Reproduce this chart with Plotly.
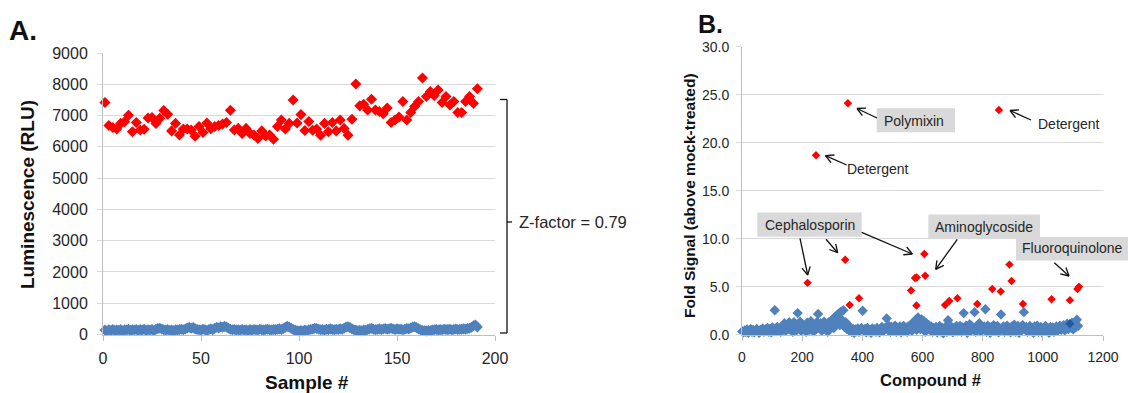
import math
import plotly.graph_objects as go

W, H = 1128, 393

# ---------------- Panel A data ----------------
a_blue_samples = list(range(1, 192))
a_blue_rlu = [
    140, 120, 150, 130, 160, 125, 145, 135, 155, 120, 150, 140, 165, 130, 150, 145, 160, 135, 155, 140,
    170, 130, 150, 145, 160, 120, 165, 190, 200, 175, 150, 140, 160, 130, 145, 120, 150, 140, 160, 170,
    150, 175, 210, 230, 200, 220, 180, 160, 150, 140, 170, 150, 130, 160, 180, 150, 200, 230, 210, 250,
    230, 260, 240, 200, 170, 150, 160, 140, 150, 135, 160, 145, 150, 130, 155, 140, 160, 150, 145, 165,
    150, 140, 160, 170, 150, 145, 160, 155, 170, 180, 160, 190, 230, 260, 240, 200, 160, 140, 120, 110,
    130, 110, 140, 120, 150, 160, 175, 200, 190, 170, 150, 160, 140, 170, 155, 180, 160, 150, 170, 160,
    180, 170, 200, 240, 250, 220, 180, 150, 140, 120, 135, 115, 140, 130, 160, 180, 200, 170, 150, 165,
    180, 160, 175, 190, 170, 185, 200, 175, 160, 180, 170, 165, 150, 170, 190, 180, 210, 240, 250, 220,
    180, 150, 130, 120, 110, 125, 120, 140, 150, 160, 145, 155, 150, 165, 160, 155, 170, 150, 160, 175,
    160, 170, 165, 180, 170, 190, 200, 230, 280, 300, 240,
]

a_red_samples = list(range(1, 192, 2))
a_red_rlu = [
    7420, 6680, 6620, 6570, 6750, 6800, 7010, 6480, 6780, 6540,
    6560, 6920, 6940, 6750, 6910, 7160, 7040, 6510, 6750, 6380,
    6570, 6570, 6540, 6340, 6650, 6460, 6760, 6580, 6650, 6680,
    6730, 6780, 7170, 6540, 6590, 6430, 6590, 6430, 6380, 6270,
    6510, 6350, 6380, 6240, 6650, 6860, 6570, 6750, 7500, 6760,
    7030, 6520, 6810, 6530, 6570, 6370, 6750, 6480, 6780, 6510,
    6860, 6590, 6370, 6880, 8010, 7310, 7360, 7180, 7520, 7180,
    7130, 7060, 7240, 6780, 6860, 6950, 7450, 6860, 7100, 7290,
    7450, 8200, 7610, 7770, 7640, 7820, 7420, 7610, 7340, 7450,
    7100, 7100, 7450, 7610, 7390, 7860,
]

# ---------------- Panel B data ----------------
b_blue_compounds = list(range(1, 1118, 4))
b_blue_fold = [
    0.35, 0.25, 0.45, 0.3, 0.55, 0.2, 0.4, 0.6, 0.3, 0.5, 0.25, 0.45, 0.6, 0.35, 0.2, 0.5, 0.4, 0.65, 0.3, 0.55,
    0.4, 0.7, 0.3, 0.6, 0.25, 0.75, 0.5, 2.55, 0.35, 0.8, 0.45, 0.65, 0.3, 0.85, 0.5, 1.2, 0.4, 0.9, 0.6, 1.3,
    0.5, 1.0, 0.3, 1.3, 0.7, 0.45, 2.25, 0.9, 1.35, 0.4, 1.1, 0.6, 0.95, 0.3, 1.25, 0.7, 0.5, 1.4, 0.8, 0.35,
    1.0, 0.5, 1.3, 2.15, 0.7, 1.2, 0.4, 0.9, 1.35, 0.6, 1.1, 0.3, 1.3, 0.8, 1.45, 1.6, 0.7, 1.85, 1.2, 2.05,
    2.2, 1.0, 2.4, 1.5, 2.55, 0.8, 1.3, 0.6, 1.0, 0.4, 0.7, 0.3, 0.6, 0.2, 0.55, 0.35, 0.65, 0.3, 0.5, 0.7,
    2.5, 0.4, 0.6, 0.25, 0.7, 0.35, 0.5, 0.2, 0.65, 0.4, 0.55, 0.3, 0.7, 0.45, 0.25, 0.6, 0.8, 0.35, 0.5, 0.75,
    1.7, 0.5, 0.9, 0.3, 0.8, 0.6, 0.4, 0.95, 0.3, 0.7, 0.55, 0.85, 0.25, 0.65, 0.9, 0.4, 0.75, 0.3, 0.85, 0.6,
    1.0, 0.4, 1.3, 0.7, 1.5, 0.5, 1.8, 1.1, 0.6, 1.6, 0.9, 1.4, 0.3, 1.2, 0.7, 1.0, 0.5, 0.85, 0.3, 0.7,
    0.4, 0.8, 0.25, 0.6, 0.9, 0.35, 0.7, 0.15, 0.55, 0.85, 0.3, 1.5, 0.6, 0.4, 0.8, 0.25, 0.7, 0.5, 0.9, 0.35,
    0.6, 0.9, 0.3, 0.75, 2.25, 0.5, 0.95, 0.2, 0.7, 1.1, 0.4, 0.8, 0.55, 2.35, 0.3, 0.9, 0.65, 1.2, 0.35, 0.7,
    0.5, 0.85, 2.65, 0.3, 0.95, 0.6, 0.2, 0.8, 0.45, 1.0, 0.35, 0.7, 0.9, 0.25, 0.65, 2.1, 0.5, 0.85, 0.3, 0.75,
    0.95, 0.4, 0.7, 0.25, 0.85, 0.5, 1.05, 0.3, 0.6, 0.9, 0.2, 0.75, 0.45, 1.0, 2.35, 0.55, 0.8, 0.3, 0.65, 0.9,
    0.35, 0.7, 0.2, 0.85, 0.5, 0.95, 0.3, 0.6, 0.8, 0.25, 0.7, 0.45, 0.9, 0.35, 0.65, 0.2, 0.8, 0.5, 0.75, 0.3,
    0.6, 0.85, 0.4, 0.7, 0.95, 0.5, 0.8, 1.0, 0.45, 0.9, 1.15, 0.6, 1.05, 0.75, 1.25, 0.55, 1.1, 0.8, 1.55, 0.9,
]
b_dark_compounds = [1090]
b_dark_fold = [1.15]

b_red_compounds = [218, 246, 343, 352, 358, 389, 562, 575, 581, 580, 606, 609, 675,
                   689, 716, 782, 832, 854, 860, 889, 896, 934, 1029, 1090, 1115, 1120]
b_red_fold = [5.4, 18.7, 7.8, 24.1, 3.1, 3.8, 4.6, 5.9, 5.95, 3.05, 8.4, 6.15, 3.1,
              3.5, 3.8, 3.2, 4.75, 23.4, 4.5, 7.3, 5.6, 3.2, 3.7, 3.6, 4.75, 5.0]

a_x_ticks = [0, 50, 100, 150, 200]
a_y_ticks = [0, 1000, 2000, 3000, 4000, 5000, 6000, 7000, 8000, 9000]
b_x_ticks = [0, 200, 400, 600, 800, 1000, 1200]
b_y_ticks = [0, 5, 10, 15, 20, 25, 30]

RED = "#ff0000"
BLUE = "#4f81bd"
DARKBLUE = "#1f5aa6"
GRID = "#d9d9d9"
AXIS = "#bfbfbf"
TXT = "#262626"
FONT = "Liberation Sans, Arial, sans-serif"


def px(x):
    return x / W


def py(y):
    return 1 - y / H


fig = go.Figure()

fig.add_trace(go.Scatter(x=a_blue_samples, y=a_blue_rlu, mode="markers", xaxis="x", yaxis="y",
                         marker=dict(symbol="diamond", size=8.5, color=BLUE), cliponaxis=False,
                         showlegend=False, hoverinfo="skip"))
fig.add_trace(go.Scatter(x=a_red_samples, y=a_red_rlu, mode="markers", xaxis="x", yaxis="y",
                         marker=dict(symbol="diamond", size=8.5, color=RED), cliponaxis=False,
                         showlegend=False, hoverinfo="skip"))
fig.add_trace(go.Scatter(x=b_blue_compounds, y=b_blue_fold, mode="markers", xaxis="x2", yaxis="y2",
                         marker=dict(symbol="diamond", size=8, color=BLUE), cliponaxis=False,
                         showlegend=False, hoverinfo="skip"))
fig.add_trace(go.Scatter(x=b_dark_compounds, y=b_dark_fold, mode="markers", xaxis="x2", yaxis="y2",
                         marker=dict(symbol="diamond", size=7, color=DARKBLUE), cliponaxis=False,
                         showlegend=False, hoverinfo="skip"))
fig.add_trace(go.Scatter(x=b_red_compounds, y=b_red_fold, mode="markers", xaxis="x2", yaxis="y2",
                         marker=dict(symbol="diamond", size=6.5, color=RED), cliponaxis=False,
                         showlegend=False, hoverinfo="skip"))

common_x = dict(showgrid=False, showline=True, linecolor=AXIS, linewidth=1, ticks="outside",
                ticklen=5, tickcolor=AXIS, zeroline=False, fixedrange=True, automargin=False)
common_y = dict(showgrid=True, gridcolor=GRID, gridwidth=1, showline=True, linecolor=AXIS,
                linewidth=1, ticks="outside", ticklen=5, tickcolor=GRID, zeroline=False, fixedrange=True,
                automargin=False)

fig.update_layout(
    width=W, height=H,
    margin=dict(l=0, r=0, t=0, b=0),
    paper_bgcolor="white", plot_bgcolor="white",
    font=dict(family=FONT, color=TXT),
    xaxis=dict(domain=[px(103), px(495)], range=[0, 200], tickvals=a_x_ticks, anchor="y",
               tickfont=dict(size=16, color=TXT), ticklabelstandoff=4, **common_x),
    yaxis=dict(domain=[py(334.5), py(53)], range=[0, 9000], tickvals=a_y_ticks, anchor="x",
               tickfont=dict(size=16, color=TXT), ticklabelstandoff=6, **common_y),
    xaxis2=dict(domain=[px(742), px(1103)], range=[0, 1200], tickvals=b_x_ticks, anchor="y2",
                tickfont=dict(size=14, color=TXT), ticklabelstandoff=4, **common_x),
    yaxis2=dict(domain=[py(334.7), py(46.7)], range=[0, 30], tickvals=b_y_ticks, anchor="x2",
                tickformat=".1f", tickfont=dict(size=14, color=TXT), ticklabelstandoff=4, **common_y),
)

annotations = []
shapes = []


def text(x, y, s, size, bold=False, angle=0, xanchor="center", color=TXT):
    annotations.append(dict(x=px(x), y=py(y), xref="paper", yref="paper", text=f"<b>{s}</b>" if bold else s,
                            showarrow=False, xanchor=xanchor, yanchor="middle", textangle=angle,
                            font=dict(size=size, color=color, family=FONT)))


def line(x0, y0, x1, y1, color="#111", width=1.3):
    shapes.append(dict(type="line", xref="paper", yref="paper", x0=px(x0), y0=py(y0), x1=px(x1), y1=py(y1),
                       line=dict(color=color, width=width)))


def arrow(x0, y0, x1, y1, head=9, ang=28):
    line(x0, y0, x1, y1)
    a = math.atan2(y0 - y1, x0 - x1)
    for s in (-1, 1):
        b = a + s * math.radians(ang)
        line(x1, y1, x1 + head * math.cos(b), y1 + head * math.sin(b))


def box(x0, y0, x1, y1):
    shapes.append(dict(type="rect", xref="paper", yref="paper", x0=px(x0), y0=py(y1), x1=px(x1), y1=py(y0),
                       fillcolor="#d9d9d9", line=dict(width=0), layer="above"))


# Panel letters
text(23, 31, "A.", 28, bold=True, color="#111")
text(710, 24, "B.", 25, bold=True, color="#111")

# Axis titles
text(27, 195, "Luminescence (RLU)", 19, bold=True, angle=-90, color="#111")
text(307, 382, "Sample #", 19, bold=True, color="#111")
text(689, 196, "Fold Signal (above mock-treated)", 15.5, bold=True, angle=-90, color="#111")
text(930, 380, "Compound #", 16.5, bold=True, color="#111")

# Z-factor bracket
line(500, 99.5, 507, 99.5)
line(507, 99.5, 507, 333)
line(500, 333, 507, 333)
line(507, 222, 512, 222)
text(517, 222, "Z-factor = 0.79", 16.5, xanchor="left")

# Panel B callouts
box(876.7, 108.3, 955, 132.3)
text(914, 120.5, "Polymixin", 14)
arrow(877, 118, 857, 108.5)

text(1069, 124, "Detergent", 14)
arrow(1031, 120, 1010, 110.5)

text(878, 169, "Detergent", 14)
arrow(846.7, 165, 825.5, 155.7)

box(757.3, 212.5, 861.7, 236.7)
text(809.5, 224.5, "Cephalosporin", 14)
arrow(800, 238.3, 807.7, 275)
arrow(826, 239.3, 837.7, 252.7)
arrow(861.7, 232.3, 912.3, 254)

box(928.3, 214.5, 1040, 238.3)
text(984, 226.5, "Aminoglycoside", 14)
arrow(957.3, 239.3, 935.7, 269.3)

box(1016, 237, 1128, 260.5)
text(1072, 248.5, "Fluoroquinolone", 14)
arrow(1054.3, 262.7, 1069, 276)

fig.update_layout(annotations=annotations, shapes=shapes)

fig.write_html("out.html", config={"displayModeBar": False},
               post_script="document.body.style.margin='0';document.body.style.overflow='hidden';")
